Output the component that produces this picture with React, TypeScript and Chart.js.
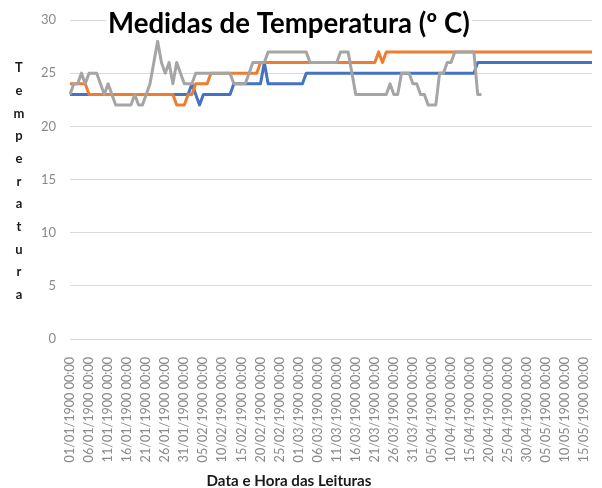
import React, { useEffect, useRef } from "react";
import { Chart, registerables } from "chart.js";

Chart.register(...registerables);

// Excel's 1900 calendar (includes 29/02/1900)
const MONTH_DAYS = [31, 29, 31, 30, 31];
const POINT_COUNT = 138;
const TICK_EVERY = 5;

const TITLE = "Medidas de Temperatura (º C)";
const X_TITLE = "Data e Hora das Leituras";
const Y_TITLE_LETTERS = ["T", "e", "m", "p", "e", "r", "a", "t", "u", "r", "a"];

const blueSeries = [
  23, 23, 23, 23, 23, 23, 23, 23, 23, 23,
  23, 23, 23, 23, 23, 23, 23, 23, 23, 23,
  23, 23, 23, 23, 23, 23, 23, 23, 23, 23,
  23, 23, 24, 23, 22, 23, 23, 23, 23, 23,
  23, 23, 23, 24, 24, 24, 24, 24, 24, 24,
  24, 26, 24, 24, 24, 24, 24, 24, 24, 24,
  24, 24, 25, 25, 25, 25, 25, 25, 25, 25,
  25, 25, 25, 25, 25, 25, 25, 25, 25, 25,
  25, 25, 25, 25, 25, 25, 25, 25, 25, 25,
  25, 25, 25, 25, 25, 25, 25, 25, 25, 25,
  25, 25, 25, 25, 25, 25, 25, 26, 26, 26,
  26, 26, 26, 26, 26, 26, 26, 26, 26, 26,
  26, 26, 26, 26, 26, 26, 26, 26, 26, 26,
  26, 26, 26, 26, 26, 26, 26, 26,
];

const orangeSeries = [
  24, 24, 24, 24, 24, 23, 23, 23, 23, 23,
  23, 23, 23, 23, 23, 23, 23, 23, 23, 23,
  23, 23, 23, 23, 23, 23, 23, 23, 22, 22,
  22, 23, 23, 24, 24, 24, 24, 25, 25, 25,
  25, 25, 25, 25, 25, 25, 25, 25, 25, 25,
  26, 26, 26, 26, 26, 26, 26, 26, 26, 26,
  26, 26, 26, 26, 26, 26, 26, 26, 26, 26,
  26, 26, 26, 26, 26, 26, 26, 26, 26, 26,
  26, 27, 26, 27, 27, 27, 27, 27, 27, 27,
  27, 27, 27, 27, 27, 27, 27, 27, 27, 27,
  27, 27, 27, 27, 27, 27, 27, 27, 27, 27,
  27, 27, 27, 27, 27, 27, 27, 27, 27, 27,
  27, 27, 27, 27, 27, 27, 27, 27, 27, 27,
  27, 27, 27, 27, 27, 27, 27, 27,
];

const graySeries = [
  23, 24, 24, 25, 24, 25, 25, 25, 24, 23,
  24, 23, 22, 22, 22, 22, 22, 23, 22, 22,
  23, 24, 26, 28, 26, 25, 26, 24, 26, 25,
  24, 24, 24, 25, 25, 25, 25, 25, 25, 25,
  25, 25, 25, 24, 24, 24, 24, 25, 26, 26,
  26, 26, 27, 27, 27, 27, 27, 27, 27, 27,
  27, 27, 27, 26, 26, 26, 26, 26, 26, 26,
  26, 27, 27, 27, 25, 23, 23, 23, 23, 23,
  23, 23, 23, 23, 24, 23, 23, 25, 25, 25,
  24, 24, 23, 23, 22, 22, 22, 25, 25, 26,
  26, 27, 27, 27, 27, 27, 27, 23, 23,
];

function buildCategories(): string[] {
  const out: string[] = [];
  let month = 0;
  let day = 1;
  for (let i = 0; i < POINT_COUNT; i++) {
    const dd = String(day).padStart(2, "0");
    const mm = String(month + 1).padStart(2, "0");
    out.push(`${dd}/${mm}/1900 00:00`);
    day++;
    if (day > MONTH_DAYS[month]) {
      day = 1;
      month++;
    }
  }
  return out;
}

const categories = buildCategories();

const FONT = "Lato, 'Liberation Sans', sans-serif";

const overlayPlugin = {
  id: "overlayText",
  afterDraw(chart: any) {
    const ctx = chart.ctx as CanvasRenderingContext2D;
    ctx.save();
    // Main title, fitted to width
    let size = 28;
    ctx.font = `bold ${size}px ${FONT}`;
    const w0 = ctx.measureText(TITLE).width;
    size = (size * 362) / w0;
    ctx.font = `bold ${size}px ${FONT}`;
    const tw = ctx.measureText(TITLE).width;
    const cx = 289;
    ctx.fillStyle = "#ffffff";
    ctx.fillRect(cx - tw / 2 - 2, 6, tw + 4, 34);
    ctx.fillStyle = "#000000";
    ctx.textAlign = "center";
    ctx.textBaseline = "alphabetic";
    ctx.fillText(TITLE, cx, 33);

    // X axis title
    let xs = 13;
    ctx.font = `bold ${xs}px ${FONT}`;
    const xw = ctx.measureText(X_TITLE).width;
    xs = (xs * 165) / xw;
    ctx.font = `bold ${xs}px ${FONT}`;
    ctx.fillStyle = "#1a1a1a";
    ctx.textBaseline = "middle";
    ctx.fillText(X_TITLE, cx, 481);

    // Y axis title: stacked letters
    ctx.font = `bold 13px ${FONT}`;
    Y_TITLE_LETTERS.forEach((ch, k) => {
      ctx.fillText(ch, 19, 68 + k * 22.7);
    });
    ctx.restore();
  },
};

export default function App() {
  const ref = useRef<HTMLCanvasElement | null>(null);

  useEffect(() => {
    if (!ref.current) return;
    const chart = new Chart(ref.current, {
      type: "line",
      data: {
        labels: categories,
        datasets: [
          {
            label: "Série 1",
            data: blueSeries,
            borderColor: "#4472C4",
            backgroundColor: "#4472C4",
            borderWidth: 3,
            pointRadius: 0,
            tension: 0,
            order: 3,
          },
          {
            label: "Série 2",
            data: orangeSeries,
            borderColor: "#ED7D31",
            backgroundColor: "#ED7D31",
            borderWidth: 3,
            pointRadius: 0,
            tension: 0,
            order: 2,
          },
          {
            label: "Série 3",
            data: graySeries,
            borderColor: "#A5A5A5",
            backgroundColor: "#A5A5A5",
            borderWidth: 3,
            pointRadius: 0,
            tension: 0,
            order: 1,
          },
        ],
      },
      options: {
        responsive: true,
        maintainAspectRatio: false,
        animation: false,
        layout: { padding: { top: 20, right: 10, left: 0, bottom: 0 } },
        plugins: {
          legend: { display: false },
          title: { display: false },
          tooltip: { enabled: false },
        },
        elements: { line: { borderJoinStyle: "round", borderCapStyle: "butt" } },
        scales: {
          x: {
            type: "category",
            offset: false,
            grid: { display: false, drawTicks: false },
            border: { display: false },
            ticks: {
              autoSkip: false,
              minRotation: 90,
              maxRotation: 90,
              padding: 18,
              color: "#8a8a8a",
              font: { family: FONT, size: 12.6 },
              callback: (_v: any, i: number) =>
                i % TICK_EVERY === 0 ? categories[i] : null,
            },
            afterFit: (scale: any) => {
              scale.height = 149;
              scale.paddingLeft = 0;
              scale.paddingRight = 0;
            },
          },
          y: {
            min: 0,
            max: 30,
            grid: { color: "#d9d9d9", lineWidth: 1, drawTicks: false },
            border: { display: false },
            ticks: {
              stepSize: 5,
              padding: 14,
              color: "#8a8a8a",
              font: { family: FONT, size: 13 },
            },
            afterFit: (scale: any) => {
              scale.width = 70;
              scale.paddingTop = 0;
              scale.paddingBottom = 0;
            },
          },
        },
      },
      plugins: [overlayPlugin],
    });
    return () => chart.destroy();
  }, []);

  return (
    <div
      style={{
        position: "fixed",
        left: 0,
        top: 0,
        width: 602,
        height: 488,
        background: "#ffffff",
      }}
    >
      <canvas ref={ref} />
    </div>
  );
}
